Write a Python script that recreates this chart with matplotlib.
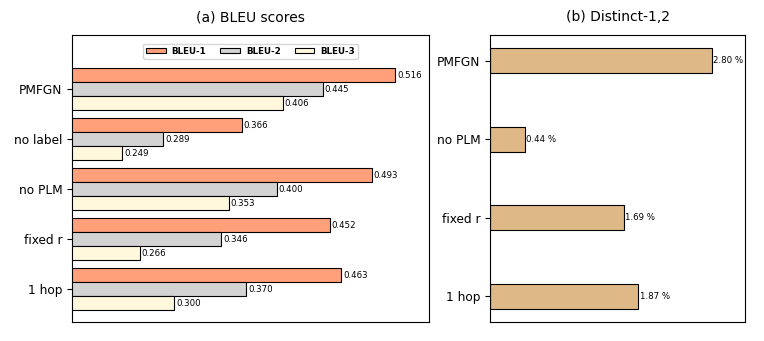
import matplotlib.pyplot as plt
import numpy as np

# data
bleu_models = ['PMFGN', 'no label', 'no PLM', 'fixed r', '1 hop']
bleu1 = [0.516, 0.366, 0.493, 0.452, 0.463]
bleu2 = [0.445, 0.289, 0.400, 0.346, 0.370]
bleu3 = [0.406, 0.249, 0.353, 0.266, 0.300]

dist_models = ['PMFGN', 'no PLM', 'fixed r', '1 hop']
distinct = [2.80, 0.44, 1.69, 1.87]

fig = plt.figure(figsize=(7.64, 3.41), dpi=100)

# (a) BLEU scores
ax1 = fig.add_axes([72/764, 19/341, 357/764, 287/341])
n = len(bleu_models)
pos = np.arange(n)[::-1]
h = 0.28
series = [('BLEU-1', bleu1, 'lightsalmon'),
          ('BLEU-2', bleu2, 'lightgray'),
          ('BLEU-3', bleu3, 'cornsilk')]
for i, (name, vals, col) in enumerate(series):
    y = pos + (1 - i) * h
    ax1.barh(y, vals, height=h, color=col, edgecolor='black', linewidth=0.8, label=name)
    for yy, v in zip(y, vals):
        ax1.text(v + 0.002, yy, f'{v:.3f}', va='center', ha='left', fontsize=6.2)

ax1.set_xlim(0.2, 0.549)
ax1.set_ylim(-0.66, n - 1 + 1.08)
ax1.set_xticks([])
ax1.set_yticks(pos)
ax1.set_yticklabels(bleu_models, fontsize=8.7)
ax1.set_title('(a) BLEU scores', fontsize=10, pad=10)
ax1.legend(loc='upper center', ncol=3, prop={'size': 6.3, 'weight': 'bold'},
           handlelength=2.2, handleheight=0.6, columnspacing=1.6, borderpad=0.35,
           handletextpad=0.7, bbox_to_anchor=(0.5, 0.985))

# (b) Distinct-1,2
ax2 = fig.add_axes([490/764, 19/341, 255/764, 287/341])
pos2 = np.arange(len(dist_models))[::-1]
ax2.barh(pos2, distinct, height=0.32, color='burlywood', edgecolor='black', linewidth=0.8)
for yy, v in zip(pos2, distinct):
    ax2.text(v + 0.02, yy, f'{v:.2f} %', va='center', ha='left', fontsize=6.2)
ax2.set_xlim(0, 3.22)
ax2.set_xticks([])
ax2.set_yticks(pos2)
ax2.set_yticklabels(dist_models, fontsize=8.7)
ax2.set_title('(b) Distinct-1,2', fontsize=10, pad=10)

fig.savefig('out.png', dpi=100)
